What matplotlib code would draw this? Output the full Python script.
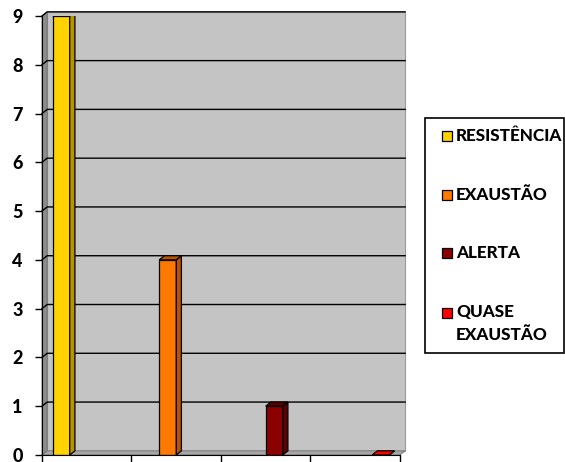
import matplotlib.pyplot as plt
from matplotlib.patches import Polygon, Rectangle

plt.rcParams['font.family'] = ['Lato', 'DejaVu Sans']

# one value per stress phase
labels = ['RESISTÊNCIA', 'EXAUSTÃO', 'ALERTA', 'QUASE\nEXAUSTÃO']
values = [9, 4, 1, 0]
colors = ['#FFD200', '#FF7800', '#8B0000', '#FF0000']
sides = ['#B89500', '#B85400', '#5E0000', '#B00000']

n_series = len(values)
width = 0.19
dx, dy = 0.058, 0.085  # depth offset of the 3-D effect (data units)

fig = plt.figure(figsize=(5.65, 4.62), dpi=100)
ax = fig.add_axes([0.0743, 0.0152, 0.6336, 0.9502])
ax.set_xlim(0.5, 4.5)
ax.set_ylim(0, 9)
ax.set_facecolor('none')

# walls and floor
back = Rectangle((0.5 + dx, dy), 4.0, 9.0, facecolor='#C4C4C4',
                 edgecolor='#9A9A9A', lw=0.8, clip_on=False, zorder=0)
ax.add_patch(back)
left = Polygon([(0.5, 0), (0.5 + dx, dy), (0.5 + dx, 9 + dy), (0.5, 9)],
               facecolor='#8C8C8C', edgecolor='#6E6E6E', lw=0.6, clip_on=False, zorder=0)
ax.add_patch(left)
floor = Polygon([(0.5, 0), (4.5, 0), (4.5 + dx, dy), (0.5 + dx, dy)],
                facecolor='#A6A6A6', edgecolor='#6E6E6E', lw=0.6, clip_on=False, zorder=0)
ax.add_patch(floor)

# gridlines on the walls
for y in range(1, 10):
    ax.plot([0.5, 0.5 + dx, 4.5 + dx], [y, y + dy, y + dy], color='black',
            lw=1.0, clip_on=False, zorder=1)

# 3-D columns
for i, (v, c, s) in enumerate(zip(values, colors, sides)):
    x0 = (i + 1) + (i - (n_series - 1) / 2) * width - width / 2
    x1 = x0 + width
    ax.bar(x0, v, width=width, align='edge', color=c, edgecolor='black',
           lw=0.9, zorder=3)
    side = Polygon([(x1, 0), (x1 + dx, dy), (x1 + dx, v + dy), (x1, v)],
                   facecolor=s, edgecolor='black', lw=0.9, zorder=3)
    top = Polygon([(x0, v), (x0 + dx, v + dy), (x1 + dx, v + dy), (x1, v)],
                  facecolor=c if v == 0 else s, edgecolor='black', lw=0.9, zorder=3)
    ax.add_patch(side)
    ax.add_patch(top)

for sp in ['top', 'right']:
    ax.spines[sp].set_visible(False)
ax.spines['left'].set_color('black')
ax.spines['bottom'].set_color('black')
ax.spines['left'].set_zorder(5)
ax.spines['bottom'].set_zorder(5)

ax.set_yticks(range(0, 10))
ax.set_xticks([0.5, 1.5, 2.5, 3.5, 4.5])
ax.set_xticklabels([])
ax.tick_params(axis='y', length=5, width=1, labelsize=13, pad=9)
ax.tick_params(axis='x', length=7, width=1)
for t in ax.get_yticklabels():
    t.set_fontweight('black')

# legend box
fig.patches.append(Rectangle((425 / 565, 1 - 353 / 462), 139 / 565, 235 / 462,
                             transform=fig.transFigure, facecolor='white',
                             edgecolor='black', lw=1.2))
legend_y = [136, 195, 253, 313]
for lab, c, ly in zip(labels, colors, legend_y):
    fig.patches.append(Rectangle((442 / 565, 1 - (ly + 5) / 462), 10 / 565, 10 / 462,
                                 transform=fig.transFigure, facecolor=c,
                                 edgecolor='black', lw=0.9))
    fig.text(456 / 565, 1 - (ly - 9 if '\n' in lab else ly) / 462, lab,
             fontsize=12.3, fontweight='black',
             va='top' if '\n' in lab else 'center', ha='left',
             linespacing=1.5)

fig.savefig('out.png', dpi=100)
